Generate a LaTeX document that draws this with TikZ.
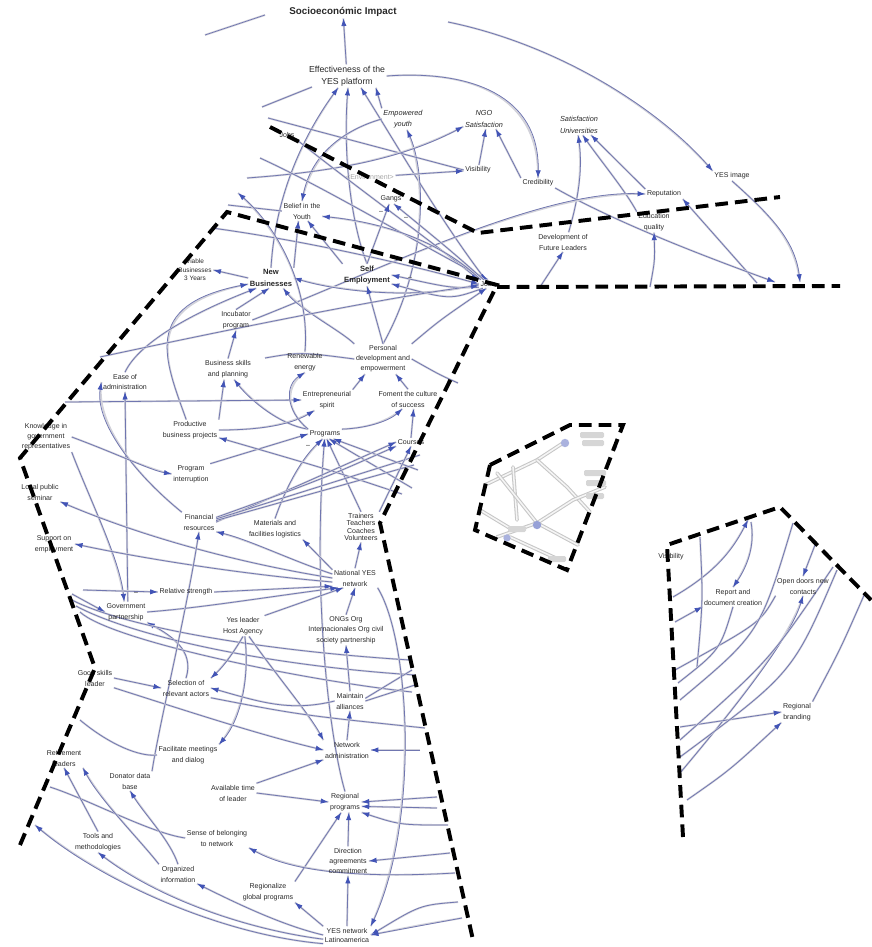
\documentclass[tikz,border=0pt]{standalone}
\usepackage{fontspec}
\setmainfont{Liberation Sans}
\usetikzlibrary{arrows.meta, backgrounds}
\definecolor{linkc}{RGB}{112,118,176}
\definecolor{shadc}{RGB}{210,210,218}
\definecolor{arrc}{RGB}{66,84,182}
\definecolor{txtc}{RGB}{40,40,40}

\begin{document}
\begin{tikzpicture}[
    x=0.025cm, y=-0.025cm,
    lbl/.style={align=center, inner sep=1pt, text=txtc, font=\fontsize{5}{7.8}\selectfont},
    keyv/.style={lbl, font=\fontsize{5.4}{8.4}\selectfont\bfseries},
    ital/.style={lbl, font=\fontsize{5.2}{8}\selectfont\itshape},
    arr/.style={draw=linkc, line width=0.55pt, -{Latex[length=5.5pt,width=3.8pt,color=arrc]}, preaction={draw=shadc, line width=1.4pt, arrows=-}},
    ln/.style={draw=linkc, line width=0.55pt, preaction={draw=shadc, line width=1.4pt}},
    cut/.style={draw=black, line width=2.8pt, dash pattern=on 9pt off 5pt},
    sgn/.style={inner sep=0pt, text=txtc, font=\fontsize{5}{6}\selectfont},
    insl/.style={draw=black!22, line width=2.6pt, line cap=round, postaction={draw=black!4, line width=1.1pt}}
]
\useasboundingbox (0,0) rectangle (871,947);

% upper variables
\node[lbl, font=\fontsize{7}{8}\selectfont\bfseries] (impact) at (343,12) {Socioeconómic Impact};
\node[lbl, font=\fontsize{6.2}{8.4}\selectfont] (effect) at (347,76) {Effectiveness of the\\YES platform};
\node[ital] (empow) at (403,119) {Empowered\\youth};
\node[ital] (ngo) at (484,119) {NGO\\Satisfaction};
\node[ital] (satuni) at (579,125) {Satisfaction\\Universities};
\node[lbl] (visib) at (478,170) {Visibility};
\node[lbl] (cred) at (538,183) {Credibility};
\node[lbl] (image) at (732,176) {YES image};
\node[lbl] (reput) at (664,194) {Reputation};
\node[lbl] (eduq) at (654,222) {Education\\quality};
\node[lbl] (devlead) at (563,242) {Development of\\Future Leaders};
\node[lbl] (belief) at (302,211) {Belief in the\\Youth};
\node[lbl] (gangs) at (391,199) {Gangs};
\node[lbl, text=black!35] (envir) at (370,177) {<Environment>};
\node[lbl] (jobsA) at (287,135) {Jobs};
\node[lbl] (jobs) at (488,284) {Jobs};

% left block
\node[lbl, font=\fontsize{4.6}{6}\selectfont] (viable) at (195,270) {Viable\\Businesses\\3 Years};
\node[keyv] (newbus) at (271,278) {New\\Businesses};
\node[keyv] (selfemp) at (367,275) {Self\\Employment};
\node[lbl] (incub) at (236,320) {Incubator\\program};
\node[lbl] (renew) at (305,362) {Renewable\\energy};
\node[lbl, font=\fontsize{5}{7.2}\selectfont] (persdev) at (383,359) {Personal\\development and\\empowerment};
\node[lbl] (bskills) at (228,369) {Business skills\\and planning};
\node[lbl] (ease) at (125,382) {Ease of\\administration};
\node[lbl] (entre) at (327,400) {Entrepreneurial\\spirit};
\node[lbl] (foment) at (408,399) {Foment the culture\\of success};
\node[lbl, font=\fontsize{5}{7.2}\selectfont] (knowgov) at (46,437) {Knowledge in\\government\\representatives};
\node[lbl] (prodbus) at (190,430) {Productive\\business projects};
\node[lbl] (progs) at (325,434) {Programs};
\node[lbl] (courses) at (411,442) {Courses};
\node[lbl] (interr) at (191,474) {Program\\interruption};
\node[lbl] (seminar) at (40,492) {Local public\\seminar};
\node[lbl, font=\fontsize{5}{5.2}\selectfont] (trainers) at (361,527) {Trainers\\Teachers\\Coaches\\Volunteers};
\node[lbl] (finres) at (199,522) {Financial\\resources};
\node[lbl] (mater) at (275,529) {Materials and\\facilities logistics};
\node[lbl] (support) at (54,544) {Support on\\employment};
\node[lbl] (natnet) at (355,578) {National YES\\network};
\node[lbl] (relstr) at (186,592) {Relative strength};
\node[lbl] (govpart) at (126,612) {Government\\partnership};
\node[lbl] (leader) at (243,626) {Yes leader\\Host Agency};
\node[lbl, font=\fontsize{5}{7.4}\selectfont] (ongs) at (346,630) {ONGs Org\\Internacionales Org civil\\society partnership};
\node[lbl] (goodsk) at (95,678) {Good skills\\leader};
\node[lbl] (select) at (186,688) {Selection of\\relevant actors};
\node[lbl] (maint) at (350,701) {Maintain\\alliances};
\node[lbl] (facil) at (188,755) {Facilitate meetings\\and dialog};
\node[lbl] (netadm) at (347,750) {Network\\administration};
\node[lbl] (retire) at (64,758) {Retirement\\leaders};
\node[lbl] (donat) at (130,781) {Donator data\\base};
\node[lbl] (availt) at (233,793) {Available time\\of leader};
\node[lbl] (regprog) at (345,802) {Regional\\programs};
\node[lbl] (sense) at (217,838) {Sense of belonging\\to network};
\node[lbl] (tools) at (98,842) {Tools and\\methodologies};
\node[lbl, font=\fontsize{5}{7.4}\selectfont] (direct) at (348,861) {Direction\\agreements\\commitment};
\node[lbl] (orginf) at (178,874) {Organized\\information};
\node[lbl] (regglob) at (268,892) {Regionalize\\global programs};
\node[lbl, font=\fontsize{5}{6.4}\selectfont] (yesnet) at (347,935) {YES network\\Latinoamerica};

% right block
\node[lbl] (visR) at (671,557) {Visibility};
\node[lbl] (report) at (733,597) {Report and\\document creation};
\node[lbl] (opendoor) at (803,586) {Open doors new\\contacts};
\node[lbl] (regbrand) at (797,712) {Regional\\branding};

\node[sgn] (m1) at (381,212) {--};
\node[sgn] (m2) at (406,218) {--};
\node[sgn] (m3) at (410,278) {--};
\node[sgn] (m4) at (308,446) {--};
\node[sgn] (m5) at (136,593) {--};

% loose ends at the cuts
\coordinate (t1) at (205,35);  \coordinate (t2) at (265,15);
\coordinate (t3) at (448,22);  \coordinate (t4) at (262,107);
\coordinate (t5) at (312,87);  \coordinate (t6) at (268,118);
\coordinate (t7) at (247,178); \coordinate (t8) at (757,283);
\coordinate (t9) at (775,282); \coordinate (t10) at (800,282);
\coordinate (t11) at (540,287); \coordinate (t12) at (650,287);
\coordinate (u1) at (260,158); \coordinate (u2) at (212,228);
\coordinate (u3) at (228,205); \coordinate (u4) at (100,357);
\coordinate (u5) at (265,358); \coordinate (u6) at (458,383);
\coordinate (u7) at (65,402);  \coordinate (u8) at (238,193);
\coordinate (u9) at (412,488); \coordinate (u10) at (418,470);
\coordinate (u11) at (402,494); \coordinate (u12) at (420,455);
\coordinate (u13) at (414,465);
\coordinate (v1) at (83,590);  \coordinate (v2) at (72,594);
\coordinate (v3) at (72,600);  \coordinate (v4) at (410,660);
\coordinate (v5) at (76,606);  \coordinate (v6) at (415,675);
\coordinate (v7) at (80,612);  \coordinate (v8) at (412,692);
\coordinate (w1) at (420,750); \coordinate (w2) at (437,797);
\coordinate (w3) at (437,808); \coordinate (w4) at (448,825);
\coordinate (w5) at (458,902); \coordinate (w6) at (462,918);
\coordinate (w7) at (450,853); \coordinate (w8) at (455,873);
\coordinate (w9) at (50,787);  \coordinate (w10) at (35,825);
\coordinate (w11) at (80,720); \coordinate (w12) at (415,685);
\coordinate (w13) at (412,670); \coordinate (w14) at (425,728);
\coordinate (r1) at (673,597); \coordinate (r2) at (748,520);
\coordinate (r3) at (751,522); \coordinate (r4) at (675,622);
\coordinate (r5) at (815,545); \coordinate (r6) at (680,773);
\coordinate (r7) at (675,670); \coordinate (r8) at (680,727);
\coordinate (r9) at (687,800); \coordinate (r10) at (865,593);
\coordinate (r11) at (700,537); \coordinate (r12) at (697,667);
\coordinate (r13) at (678,683); \coordinate (r14) at (680,700);
\coordinate (r15) at (793,523); \coordinate (r16) at (680,740);
\coordinate (r17) at (833,567); \coordinate (r18) at (680,757);
\coordinate (r19) at (837,570);

\begin{scope}[on background layer]
% top
\draw[arr] (effect) -- (impact);
\draw[ln] (t1) -- (t2);
\draw[arr] (t3) .. controls (560,45) and (660,110) .. (image.north west);
\draw[arr] (effect.east) .. controls (470,70) and (540,95) .. (cred.north);
\draw[ln] (t4) -- (t5);
\draw[arr] (newbus.north) .. controls (275,200) and (300,140) .. (effect.233);
\draw[arr] (selfemp.north) .. controls (350,220) and (343,150) .. (effect.275);
\draw[arr] (jobs.120) .. controls (440,220) and (400,150) .. (effect.320);
\draw[arr] (empow.north west) -- (effect.338);
\draw[arr] (persdev.north) .. controls (430,260) and (425,170) .. (empow.290);
\draw[arr] (empow.west) .. controls (350,128) and (312,150) .. (belief.north);
\draw[ln] (t6) -- (visib.west);
\draw[arr] (envir) -- (visib);
\draw[arr] (t7) .. controls (330,172) and (400,160) .. (ngo.200);
\draw[arr] (visib) -- (ngo.280);
\draw[arr] (cred.north west) -- (ngo.320);
\draw[arr] (devlead.60) .. controls (578,200) and (583,170) .. (satuni.265);
\draw[arr] (eduq.north west) .. controls (625,190) and (600,160) .. (satuni.290);
\draw[arr] (reput.north west) -- (satuni.320);
\draw[arr] (t8) -- (reput.south east);
\draw[arr] (cred.south east) .. controls (620,225) and (720,262) .. (t9);
\draw[arr] (image.south) .. controls (770,215) and (795,240) .. (t10);
\draw[arr] (incub.east) .. controls (380,270) and (540,190) .. (reput.west);
\draw[arr] (t11) -- (devlead.south);
\draw[arr] (t12) .. controls (655,260) .. (eduq.south);
% jobs and businesses
\draw[arr] (jobsA.south east) .. controls (360,190) and (430,240) .. (jobs.north west);
\draw[arr] (u1) .. controls (330,190) and (420,245) .. (jobs.north);
\draw[arr] (u2) .. controls (300,240) and (400,262) .. (jobs.west);
\draw[ln] (u3) -- (belief.west);
\draw[arr] (newbus.north east) -- (belief.250);
\draw[arr] (selfemp.north west) -- (belief.300);
\draw[arr] (jobs.150) .. controls (440,240) and (380,222) .. (belief.345);
\draw[arr] (selfemp.north) -- (gangs.250);
\draw[arr] (jobs.135) .. controls (450,250) .. (gangs.300);
\draw[arr] (newbus.west) -- (viable.east);
\draw[arr] (prodbus.110) .. controls (165,360) and (140,305) .. (newbus.195);
\draw[arr] (ease.north) .. controls (140,340) and (200,310) .. (newbus.215);
\draw[arr] (incub.north) -- (newbus.260);
\draw[arr] (persdev.north west) .. controls (340,330) and (300,310) .. (newbus.320);
\draw[arr] (jobs.west) .. controls (420,300) and (340,292) .. (newbus.east);
\draw[arr] (jobs.200) .. controls (450,288) .. (selfemp.east);
\draw[arr] (jobs.220) .. controls (450,300) .. (selfemp.340);
\draw[arr] (persdev.north) -- (selfemp.south);
\draw[arr] (u4) .. controls (250,325) and (400,295) .. (jobs.190);
\draw[ln] (u5) .. controls (300,352) .. (persdev.west);
\draw[ln] (persdev.east) .. controls (440,375) .. (u6);
\draw[arr] (persdev.north east) .. controls (440,320) .. (jobs.250);
% programs
\draw[arr] (bskills.north) -- (incub.south);
\draw[arr] (prodbus.north east) -- (bskills.250);
\draw[arr] (progs.north west) .. controls (280,425) and (250,400) .. (bskills.300);
\draw[arr] (prodbus.east) .. controls (260,430) and (290,425) .. (entre.220);
\draw[arr] (interr.north east) -- (progs.west);
\draw[arr] (u7) -- (entre.west);
\draw[arr] (progs.north west) .. controls (285,410) and (285,385) .. (renew.south);
\draw[arr] (renew.north) .. controls (310,290) and (280,230) .. (u8);
\draw[arr] (progs.north east) .. controls (370,428) and (390,420) .. (foment.240);
\draw[arr] (entre.north east) -- (persdev.220);
\draw[arr] (foment.north) -- (persdev.310);
\draw[arr] (courses.north) -- (foment.300);
\draw[arr] (mater.north) .. controls (285,490) and (300,460) .. (progs.245);
\draw[arr] (regprog.north) .. controls (330,740) and (312,600) .. (progs.265);
\draw[arr] (trainers.north) -- (progs.290);
\draw[arr] (u9) -- (progs.310);
\draw[arr] (u10) -- (progs.330);
\draw[arr] (u11) .. controls (330,470) .. (prodbus.345);
\draw[arr] (finres.east) -- (courses.west);
\draw[arr] (finres.15) .. controls (320,480) .. (courses.south west);
\draw[ln] (finres.10) -- (u12);
\draw[ln] (finres.5) -- (u13);
\draw[arr] (trainers.north east) -- (courses.south);
\draw[arr] (govpart.80) -- (ease.south);
\draw[arr] (finres.north west) .. controls (130,470) and (95,420) .. (ease.west);
\draw[arr] (knowgov.south east) .. controls (90,500) and (120,560) .. (govpart.100);
\draw[arr] (knowgov.east) .. controls (120,455) and (150,470) .. (interr.west);
% national network
\draw[arr] (natnet.west) .. controls (250,565) and (150,540) .. (seminar.south east);
\draw[arr] (natnet.190) .. controls (250,575) and (150,560) .. (support.east);
\draw[arr] (natnet.170) .. controls (290,560) and (250,540) .. (finres.south east);
\draw[arr] (natnet.160) -- (mater.south east);
\draw[arr] (natnet.north) -- (trainers.south);
\draw[arr] (ongs.north) -- (natnet.south);
\draw[arr] (relstr.east) -- (natnet.200);
\draw[arr] (govpart.east) .. controls (200,608) and (260,598) .. (natnet.210);
\draw[arr] (leader.north east) -- (natnet.220);
\draw[arr] (v1) -- (relstr.west);
\draw[arr] (v2) -- (govpart.west);
\draw[arr] (select.north) .. controls (195,650) and (170,635) .. (govpart.south east);
\draw[ln] (v3) .. controls (120,625) and (250,650) .. (v4);
\draw[ln] (v5) .. controls (130,635) and (260,665) .. (v6);
\draw[ln] (v7) .. controls (110,640) and (300,680) .. (v8);
% lower part
\draw[arr] (leader.south) .. controls (235,650) and (225,665) .. (select.north east);
\draw[arr] (leader.280) .. controls (250,680) and (240,720) .. (facil.north east);
\draw[arr] (leader.300) .. controls (280,680) and (310,715) .. (netadm.north west);
\draw[arr] (goodsk.east) -- (select.west);
\draw[arr] (goodsk.south east) .. controls (190,712) and (260,735) .. (netadm.west);
\draw[arr] (maint.west) .. controls (290,712) and (260,702) .. (select.east);
\draw[ln] (select.south east) .. controls (300,715) .. (w14);
\draw[arr] (maint.north) -- (ongs.south);
\draw[arr] (netadm.north) -- (maint.south);
\draw[ln] (maint.east) -- (w12);
\draw[ln] (maint.10) -- (w13);
\draw[arr] (w1) -- (netadm.east);
\draw[arr] (availt.north east) -- (netadm.south west);
\draw[arr] (availt.east) -- (regprog.west);
\draw[arr] (w2) -- (regprog.east);
\draw[arr] (w3) -- (regprog.345);
\draw[arr] (w4) .. controls (400,825) .. (regprog.south east);
\draw[arr] (direct.north) -- (regprog.290);
\draw[arr] (regglob.north east) -- (regprog.250);
\draw[arr] (yesnet.north) -- (direct.south);
\draw[arr] (yesnet.north west) -- (regglob.south east);
\draw[arr] (natnet.south east) .. controls (410,640) and (420,820) .. (yesnet.north east);
\draw[arr] (w5) .. controls (420,905) .. (yesnet.east);
\draw[arr] (w6) .. controls (420,925) .. (yesnet.east);
\draw[arr] (w7) -- (direct.east);
\draw[arr] (w8) .. controls (330,880) and (280,865) .. (sense.south east);
\draw[ln] (sense.west) .. controls (150,833) and (90,800) .. (w9);
\draw[arr] (orginf.north west) .. controls (140,840) and (100,800) .. (retire.south east);
\draw[arr] (tools.north) -- (retire.south);
\draw[arr] (orginf.north) .. controls (170,840) and (145,815) .. (donat.south);
\draw[arr] (donat.north east) .. controls (160,720) and (185,620) .. (finres.south);
\draw[arr] (yesnet.west) .. controls (280,925) and (230,900) .. (orginf.south east);
\draw[arr] (yesnet.190) .. controls (250,930) and (160,900) .. (tools.south);
\draw[arr] (yesnet.200) .. controls (220,935) and (100,880) .. (w10);
\draw[ln] (w11) .. controls (110,745) and (140,757) .. (facil.west);
% right block
\draw[arr] (r1) .. controls (720,570) and (735,545) .. (r2);
\draw[arr] (r3) .. controls (755,545) and (748,565) .. (report.north);
\draw[arr] (r4) -- (report.south west);
\draw[arr] (r5) -- (opendoor.north);
\draw[arr] (r6) .. controls (727,717) and (790,640) .. (opendoor.south);
\draw[ln] (r7) .. controls (760,623) .. (opendoor.south west);
\draw[arr] (r8) -- (regbrand.west);
\draw[arr] (r9) .. controls (730,770) .. (regbrand.south west);
\draw[ln] (regbrand.north east) .. controls (840,650) .. (r10);
\draw[ln] (r11) .. controls (703,600) .. (r12);
\draw[ln] (r13) .. controls (720,650) .. (report.south);
\draw[ln] (r14) .. controls (760,633) .. (r15);
\draw[ln] (r16) .. controls (770,660) .. (r17);
\draw[ln] (r18) .. controls (793,673) .. (r19);
\end{scope}

% blurred inset
\draw[insl] (485,485) -- (537,460) -- (563,443);
\draw[insl] (513,467) -- (517,520);
\draw[insl] (497,473) -- (537,523);
\draw[insl] (537,460) -- (567,487) -- (590,512);
\draw[insl] (537,523) -- (573,500) -- (605,487);
\draw[insl] (537,523) -- (578,545);
\draw[insl] (480,510) -- (513,530);
\draw[insl] (497,537) -- (537,523);
\draw[insl] (510,537) -- (560,560);
\fill[black!16, rounded corners=1pt] (580,432) rectangle (604,438);
\fill[black!16, rounded corners=1pt] (582,440) rectangle (604,446);
\fill[black!16, rounded corners=1pt] (584,470) rectangle (606,476);
\fill[black!16, rounded corners=1pt] (586,480) rectangle (606,486);
\fill[black!16, rounded corners=1pt] (586,493) rectangle (604,499);
\fill[black!16, rounded corners=1pt] (508,526) rectangle (526,532);
\fill[black!16, rounded corners=1pt] (548,556) rectangle (566,562);
\fill[arrc!45] (565,443) circle[radius=3pt];
\fill[arrc!55] (537,525) circle[radius=3pt];
\fill[arrc!45] (507,538) circle[radius=2.6pt];
\fill[arrc!40] (615,447) circle[radius=1.6pt];

% cut lines
\draw[cut] (270,127) -- (478,233) -- (780,197);
\draw[cut] (20,845) -- (95,668) -- (20,458) -- (227,212) -- (497,285) -- (380,523) -- (473,940);
\draw[cut] (497,287) -- (840,286);
\draw[cut] (490,465) -- (570,425) -- (623,425) -- (567,570) -- (475,530) -- cycle;
\draw[cut] (683,837) -- (667,545) -- (780,507) -- (871,600);
\end{tikzpicture}
\end{document}
